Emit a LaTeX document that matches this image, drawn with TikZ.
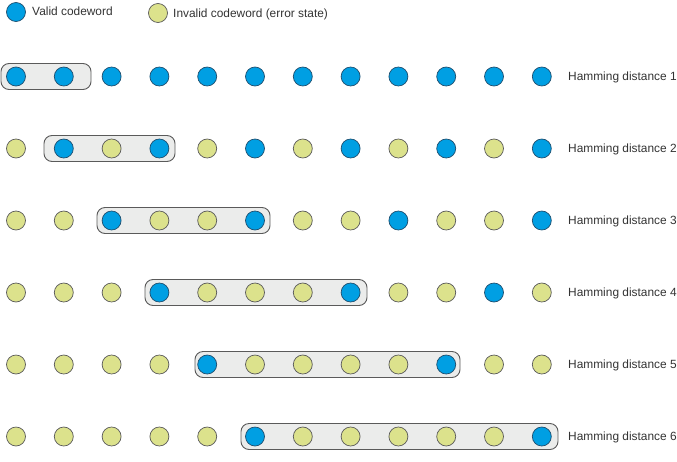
\documentclass[tikz,border=0pt]{standalone}
\usepackage{fontspec}
\setmainfont{Liberation Sans}
\definecolor{vblue}{HTML}{009FE3}
\definecolor{vblueedge}{HTML}{1F4E6E}
\definecolor{igreen}{HTML}{DCE28C}
\definecolor{gedge}{HTML}{5A5A5A}
\definecolor{boxfill}{HTML}{EBECEB}
\definecolor{txt}{HTML}{333333}
\begin{document}
\begin{tikzpicture}[x=1pt,y=-1pt,
  B/.style={circle,draw=vblueedge,fill=vblue,line width=0.7pt,minimum size=19pt,inner sep=0pt},
  G/.style={circle,draw=gedge,fill=igreen,line width=0.7pt,minimum size=19pt,inner sep=0pt},
  grp/.style={draw=gedge,fill=boxfill,rounded corners=8pt,line width=0.9pt,minimum height=26pt,inner sep=0pt},
  lbl/.style={anchor=west,font=\fontsize{11.9}{14}\selectfont,text=txt,inner sep=0pt}]
\useasboundingbox (0,0) rectangle (677,461);
% legend
\node[B] (legvalid) at (16,12) {};
\node[lbl] (legvalidtxt) at (32,11) {Valid codeword};
\node[G] (leginvalid) at (158,13) {};
\node[lbl] (leginvalidtxt) at (173,14) {Invalid codeword (error state)};
% grouping boxes
\foreach \r/\cx/\w in {1/46/90,2/109.5/131,3/183.5/173,4/256/222,5/327.5/265,6/399.5/317}{
  \node[grp,minimum width=\w pt] (box\r) at (\cx,{76.5+72*(\r-1)}) {};
}
% codewords
\foreach \r/\pat in {1/{B,B,B,B,B,B,B,B,B,B,B,B},
                     2/{G,B,G,B,G,B,G,B,G,B,G,B},
                     3/{G,G,B,G,G,B,G,G,B,G,G,B},
                     4/{G,G,G,B,G,G,G,B,G,G,B,G},
                     5/{G,G,G,G,B,G,G,G,G,B,G,G},
                     6/{G,G,G,G,G,B,G,G,G,G,G,B}}{
  \foreach \t [count=\i] in \pat {
    \node[\t] (c\r-\i) at ({16+47.8*(\i-1)},{76.5+72*(\r-1)}) {};
  }
  \node[lbl] (lab\r) at (568,{77.5+72*(\r-1)}) {Hamming distance \r};
}
\end{tikzpicture}
\end{document}
